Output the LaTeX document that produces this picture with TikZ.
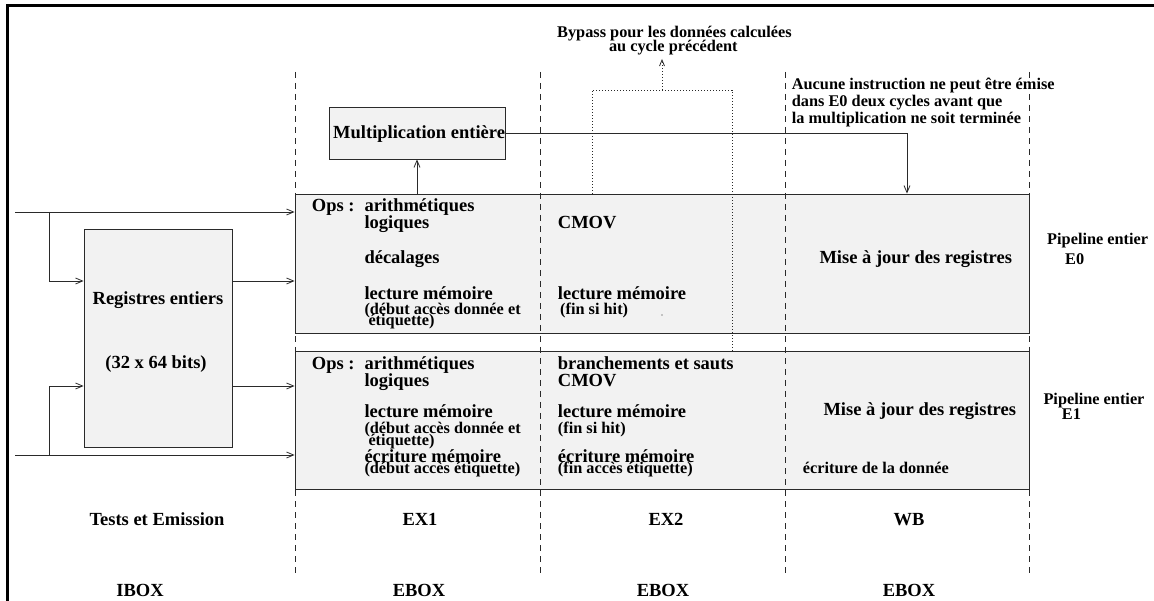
\documentclass[tikz,border=0pt]{standalone}
\usepackage{fontspec}
\setmainfont{Liberation Serif}
\usetikzlibrary{arrows.meta}
\definecolor{boxfill}{HTML}{F2F2F2}
\definecolor{ink}{HTML}{2A2A2A}
\newcommand\txtL{\fontsize{18.5}{19}\selectfont\bfseries}
\newcommand\txtS{\fontsize{16.3}{17}\selectfont\bfseries}
\tikzset{
  box/.style={draw=ink, fill=boxfill, line width=0.9pt, inner sep=0pt},
  wire/.style={draw=ink, line width=0.9pt},
  arr/.style={wire, -{Straight Barb[length=7pt,width=6pt,line width=0.8pt]}},
  stage/.style={draw=ink, line width=0.8pt, dash pattern=on 6pt off 5pt},
  bypass/.style={draw=ink, line width=0.9pt, dash pattern=on 1pt off 2pt},
  lt/.style={anchor=base west, inner sep=0pt, font=\txtL},
  st/.style={anchor=base west, inner sep=0pt, font=\txtS},
  lc/.style={anchor=base, inner sep=0pt, font=\txtL},
  sc/.style={anchor=base, inner sep=0pt, font=\txtS},
}
\begin{document}
\begin{tikzpicture}[x=1pt, y=-1pt]
\useasboundingbox (0,0) rectangle (1154,601);
\fill[white] (0,0) rectangle (1154,601);

% outer frame (only top and left edges are inside the page)
\draw[line width=3pt] (7,610) -- (7,6) -- (1165,6);

% pipeline boxes
\node[box, minimum width=734pt, minimum height=139pt] (e0) at (662,263.5) {};
\node[box, minimum width=734pt, minimum height=138pt] (e1) at (662,420) {};
\node[box, minimum width=148pt, minimum height=218pt] (reg) at (158,338) {};
\node[box, minimum width=176pt, minimum height=52pt] (mult) at (417,133) {};

% stage boundaries
\foreach \x/\n in {295/s1, 540/s2, 785/s3, 1029/s4} {
  \coordinate (\n top) at (\x,72);
  \coordinate (\n bot) at (\x,577);
  \draw[stage] (\n top) -- (\n bot);
}

% register file
\node[lc] (regA) at (158,304.3) {Registres entiers};
\node[lc] (regB) at (156,368.3) {(32 x 64 bits)};

% multiplier
\node[lt] (multT) at (333,138.3) {Multiplication entière};

% inputs and register file connections
\coordinate (in0) at (15,212);
\coordinate (in1) at (15,455);
\coordinate (br0) at (49,212);
\coordinate (br1) at (49,455);
\draw[arr] (in0) -- (e0.west |- in0);
\draw[arr] (in1) -- (e1.west |- in1);
\draw[arr] (br0) |- (reg.west |- 0,281);
\draw[arr] (br1) |- (reg.west |- 0,386);
\draw[arr] (reg.east |- 0,281) -- (e0.west |- 0,281);
\draw[arr] (reg.east |- 0,386) -- (e1.west |- 0,386);

% multiplier paths
\draw[arr] (mult.south |- e0.north) -- (mult.south);
\draw[arr] (mult.east) -| (e0.north -| 907,0);

% bypass path
\coordinate (bpL) at (592,90);
\coordinate (bpR) at (732,90);
\coordinate (bpM) at (662,90);
\coordinate (bpTip) at (662,59);
\draw[bypass] (e0.north -| bpL) -- (bpL) -- (bpR) -- (e1.north -| bpR);
\draw[bypass, -{Straight Barb[length=6pt,width=5pt,line width=0.8pt]}] (bpM) -- (bpTip);
\node[sc] (bpA) at (674.5,37.7) {Bypass pour les données calculées};
\node[sc] (bpB) at (673.3,51.7) {au cycle précédent};

% multiplier constraint note
\node[st] (noteA) at (791.7,90) {Aucune instruction ne peut être émise};
\node[st] (noteB) at (791.7,106.7) {dans E0 deux cycles avant que};
\node[st] (noteC) at (791.7,124) {la multiplication ne soit terminée};

% E0 contents
\node[lt] (e0ops) at (311.7,211.7) {Ops :};
\node[lt] (e0a) at (364.3,211.7) {arithmétiques};
\node[lt] (e0b) at (364.3,228.3) {logiques};
\node[lt] (e0c) at (364.3,263.3) {décalages};
\node[lt] (e0d) at (364.3,299.3) {lecture mémoire};
\node[st] (e0e) at (364.3,315) {(début accès donnée et};
\node[st] (e0f) at (368.3,326) {étiquette)};
\node[lt] (e0g) at (557.7,228.3) {CMOV};
\node[lt] (e0h) at (557.7,299.3) {lecture mémoire};
\node[st] (e0i) at (560,315) {(fin si hit)};
\fill[ink] (662,315) circle (0.6pt);
\node[lt] (e0j) at (819.3,264) {Mise à jour des registres};

% E1 contents
\node[lt] (e1ops) at (311.7,369.3) {Ops :};
\node[lt] (e1a) at (364.3,369.3) {arithmétiques};
\node[lt] (e1b) at (364.3,386.7) {logiques};
\node[lt] (e1c) at (364.3,417.3) {lecture mémoire};
\node[st] (e1d) at (364.3,433.3) {(début accès donnée et};
\node[st] (e1e) at (368.3,445) {étiquette)};
\node[lt] (e1f) at (364.3,462.7) {écriture mémoire};
\node[st] (e1g) at (364.3,473.3) {(début accès étiquette)};
\node[lt] (e1h) at (557.7,369.3) {branchements et sauts};
\node[lt] (e1i) at (557.7,386.7) {CMOV};
\node[lt] (e1j) at (557.7,417.3) {lecture mémoire};
\node[st] (e1k) at (557.7,433.3) {(fin si hit)};
\node[lt] (e1l) at (557.7,462.7) {écriture mémoire};
\node[st] (e1m) at (557.7,473.3) {(fin accès étiquette)};
\node[lt] (e1n) at (823.3,416) {Mise à jour des registres};
\node[st] (e1o) at (802.7,473.3) {écriture de la donnée};

% pipeline names
\node[st] (p0a) at (1047,245) {Pipeline entier};
\node[st] (p0b) at (1065,265) {E0};
\node[st] (p1a) at (1043.3,405) {Pipeline entier};
\node[st] (p1b) at (1061.7,420) {E1};

% stage names and units
\node[lc] (stTE) at (157,525) {Tests et Emission};
\node[lc] (stEX1) at (420,525) {EX1};
\node[lc] (stEX2) at (666,525) {EX2};
\node[lc] (stWB) at (909,525) {WB};
\node[lc] (uI) at (140,596) {IBOX};
\node[lc] (uE1) at (419,596) {EBOX};
\node[lc] (uE2) at (663,596) {EBOX};
\node[lc] (uE3) at (909,596) {EBOX};
\end{tikzpicture}
\end{document}
